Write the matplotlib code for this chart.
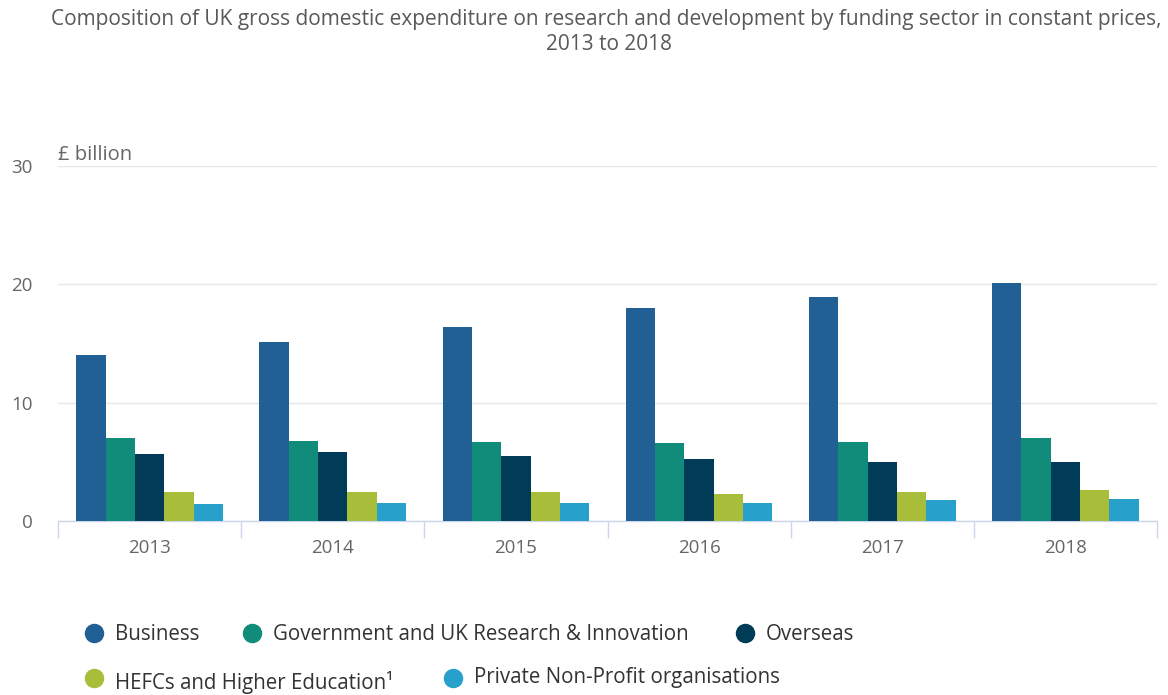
import matplotlib
matplotlib.use("Agg")
import matplotlib.pyplot as plt
import numpy as np

plt.rcParams['font.family'] = ['Open Sans', 'DejaVu Sans']

years = ["2013", "2014", "2015", "2016", "2017", "2018"]

business = [14.0, 15.1, 16.4, 18.0, 18.9, 20.1]
government_ukri = [7.0, 6.8, 6.7, 6.55, 6.7, 7.0]
overseas = [5.7, 5.8, 5.5, 5.25, 4.95, 4.95]
hefcs_higher_ed = [2.45, 2.45, 2.45, 2.3, 2.45, 2.6]
private_non_profit = [1.4, 1.55, 1.55, 1.55, 1.75, 1.85]

series_names = ["Business", "Government and UK Research & Innovation", "Overseas",
                "HEFCs and Higher Education¹", "Private Non-Profit organisations"]
series_values = [business, government_ukri, overseas, hefcs_higher_ed, private_non_profit]
colours = ["#206095", "#118c7b", "#003c57", "#a8bd3a", "#27a0cc"]

W, H = 1168, 695
fig = plt.figure(figsize=(W / 100, H / 100), dpi=100)
ax = fig.add_axes([58 / W, 1 - 521 / H, (1157 - 58) / W, (521 - 166) / H])

x = np.arange(len(years))
bar_w = 0.16
for i, (name, vals, col) in enumerate(zip(series_names, series_values, colours)):
    ax.bar(x + (i - 2) * bar_w, vals, width=bar_w, color=col, linewidth=0, zorder=3)

ax.set_xlim(-0.5, len(years) - 0.5)
ax.set_ylim(0, 30)
ax.set_yticks([0, 10, 20, 30])
ax.grid(axis="y", color="#e6e6e6", linewidth=1, zorder=0)
for side in ["top", "right", "left"]:
    ax.spines[side].set_visible(False)
ax.spines["bottom"].set_color("#ccd6eb")
ax.spines["bottom"].set_linewidth(1)

ax.set_xticks(x)
ax.set_xticklabels(years)
ax.set_xticks(np.arange(-0.5, len(years)), minor=True)
ax.tick_params(axis="x", which="major", length=0, pad=13, labelsize=13.5, labelcolor="#666666")
ax.tick_params(axis="x", which="minor", length=12, width=1, color="#ccd6eb")
ax.tick_params(axis="y", length=0, pad=18, labelsize=13.5, labelcolor="#666666")

ax.text(0, 1.0 + 11 / (521 - 166), "£ billion", transform=ax.transAxes, ha="left", va="center",
        fontsize=14.5, color="#666666")

fig.text(606 / W, 1 - 19 / H,
         "Composition of UK gross domestic expenditure on research and development by funding sector in constant prices,",
         ha="center", va="center", fontsize=15, color="#595959")
fig.text(609 / W, 1 - 44 / H, "2013 to 2018", ha="center", va="center", fontsize=15, color="#595959")

# legend laid out by hand in two rows
legend_pos = [(94, 633), (252, 633), (745, 633), (94, 678), (453, 678)]
text_dy = [1, 1, 1, 5, 0]
for (px, py), dy, name, col in zip(legend_pos, text_dy, series_names, colours):
    fig.add_artist(plt.Line2D([px / W], [1 - py / H], marker="o", markersize=13, color=col,
                              linestyle="none", transform=fig.transFigure))
    fig.text((px + 21) / W, 1 - (py + dy) / H, name, ha="left", va="center",
             fontsize=14.8, color="#333333")

fig.savefig("out.png", dpi=100)
